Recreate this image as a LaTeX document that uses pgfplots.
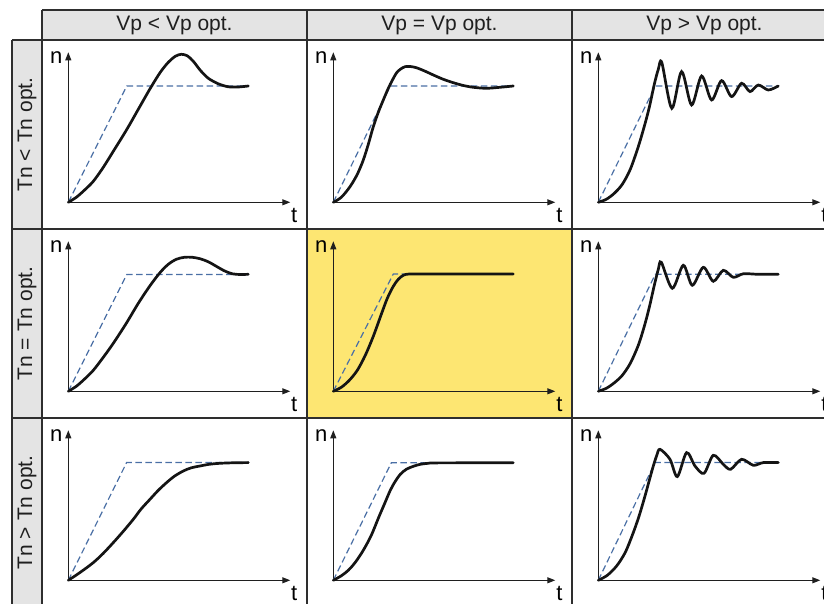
\documentclass[border=0pt]{standalone}
\usepackage{pgfplots}
\pgfplotsset{compat=1.18}
\usetikzlibrary{arrows.meta}
\usepackage{fontspec}
\setmainfont{Liberation Sans}
\definecolor{hdr}{HTML}{E4E4E4}
\definecolor{yel}{HTML}{FDE672}
\definecolor{refc}{HTML}{4A6FA5}
\definecolor{gridc}{HTML}{2E2E2E}
\pgfplotsset{
  cell/.style={x=1pt,y=1pt,xmin=0,xmax=222,ymin=0,ymax=150,
    axis lines=left, ticks=none, clip=false, anchor=origin,
    axis line style={draw=black!88, line width=1pt, -{Triangle[length=8pt,width=6pt]}}},
  resp/.style={black!92, line width=2.7pt, smooth, tension=0.5, no markers, line cap=round},
  refl/.style={refc, line width=1.2pt, dash pattern=on 6.5pt off 3.5pt, no markers},
}
\newcommand{\nt}{%
  \node[font=\fontsize{22}{22}\selectfont] at (axis cs:-12,145) {n};
  \node[font=\fontsize{22}{22}\selectfont] at (axis cs:226,-13) {t};}
\begin{document}
\begin{tikzpicture}[x=1pt,y=1pt]
\useasboundingbox (0,0) rectangle (824,604);
\clip (0,0) rectangle (824,604);
\fill[hdr] (42,594) rectangle (845,564);
\fill[hdr] (12,564) rectangle (42,-10);
\fill[yel] (307,375) rectangle (572,186);
\begin{scope}[draw=gridc, line width=1.3pt]
\draw (42,594) -- (845,594);
\draw (12,564) -- (845,564);
\draw (12,375) -- (845,375);
\draw (12,186) -- (845,186);
\draw (12,564) -- (12,-10);
\draw (42,594) -- (42,-10);
\draw (307,594) -- (307,-10);
\draw (572,594) -- (572,-10);
\draw (837,594) -- (837,-10);
\end{scope}
\begin{scope}[font=\fontsize{21}{22}\selectfont, text=black!88]
\node at (174.5,579) {Vp < Vp opt.};
\node at (439.5,579) {Vp = Vp opt.};
\node at (704.5,579) {Vp > Vp opt.};
\node[rotate=90] at (27,469.5) {Tn < Tn opt.};
\node[rotate=90] at (27,280.5) {Tn = Tn opt.};
\node[rotate=90] at (27,91.5) {Tn > Tn opt.};
\end{scope}
% Row 1
\begin{axis}[cell, at={(68.3,401.7)}]
\addplot[refl] coordinates {(0,0) (58.5,116.3) (180,116.3)};
\addplot[resp] coordinates {(0,0) (8,5) (16,12) (25,21) (35,35) (45,51) (58,72) (70,93) (82,114) (92,130) (100,140) (107,146) (113,148) (119,146.5) (125,141) (132,132) (140,124) (150,118.5) (160,115.5) (170,115.3) (180,116.3)};
\nt
\end{axis}
\begin{axis}[cell, at={(333.3,401.7)}]
\addplot[refl] coordinates {(0,0) (57,116.3) (180,116.3)};
\addplot[resp] coordinates {(0,0) (8,5) (16.7,15.6) (24,28) (30,42.3) (35,58) (40,75.6) (45,90) (50,102.3) (55,114) (59,122) (63.3,129.5) (67,133) (71.7,135.6) (77,135.8) (83.3,134.5) (92,131) (100,127.3) (110,123) (120,119.6) (130,116.8) (140,115) (153,114) (166.7,115) (180,116.3)};
\nt
\end{axis}
\begin{axis}[cell, at={(598.3,401.7)}]
\addplot[refl] coordinates {(0,0) (57,116.3) (180,116.3)};
\addplot[resp] coordinates {(0,0) (8,3) (16,9) (24,18) (32,33) (40,55.7) (46,76) (51,95) (56,118) (60,133) (63.5,139.7) (73.5,94) (83.3,130.7) (93.3,97.3) (103.3,126.3) (113.3,102.3) (123.3,121.7) (133.3,105.7) (143.3,119) (151.7,110.7) (160,117.3) (170,112.3) (180,116.3)};
\nt
\end{axis}
% Row 2
\begin{axis}[cell, at={(68.3,212.7)}]
\addplot[refl] coordinates {(0,0) (58.5,116.8) (180,116.8)};
\addplot[resp] coordinates {(0,0) (8,5) (16,12) (25,21) (35,34) (45,48) (58,68) (70,88) (82,106) (92,119) (100,127) (108,132) (116,134) (124,134) (132,132.5) (140,129.5) (148,125) (156,120.5) (164,117.5) (172,116.8) (180,117)};
\nt
\end{axis}
\begin{axis}[cell, at={(333.3,212.7)}]
\addplot[refl] coordinates {(0,0) (60,117.3) (180,117.3)};
\addplot[resp] coordinates {(0,0) (8,4) (16,11) (24,21) (32,36) (40,55) (48,77) (54,93) (60,105) (65,112) (70,116) (76,117.3) (90,117.3) (180,117.3)};
\nt
\end{axis}
\begin{axis}[cell, at={(598.3,212.7)}]
\addplot[refl] coordinates {(0,0) (57,117) (180,117)};
\addplot[resp] coordinates {(0,0) (8,3) (16,8.5) (24,16) (32,28) (40,46) (46,65) (51,84) (56,106) (60,122) (63,129) (74,103) (85,126) (94,106) (105,124) (115,110) (125,121) (135,114) (145,117.5) (160,117) (180,117)};
\nt
\end{axis}
% Row 3
\begin{axis}[cell, at={(68.3,23.7)}]
\addplot[refl] coordinates {(0,0) (58.3,117.7) (180,117.7)};
\addplot[resp] coordinates {(0,0) (12,8) (25,17.7) (35,27) (45,37.7) (55,49) (65,61) (73,71.5) (81.7,81) (90,90) (98.3,97.7) (106,104) (115,109.3) (123,112.5) (131.7,114.3) (141,116) (151.7,117) (165,117.5) (180,117.7)};
\nt
\end{axis}
\begin{axis}[cell, at={(333.3,23.7)}]
\addplot[refl] coordinates {(0,0) (58,117.5) (180,117.5)};
\addplot[resp] coordinates {(0,0) (8,4.5) (15,10) (22,18) (30,30) (38,45) (45,62) (51,76) (57,90) (62,99) (67,106) (73,111) (80,114) (87,116) (95,117) (105,117.4) (180,117.5)};
\nt
\end{axis}
\begin{axis}[cell, at={(598.3,23.7)}]
\addplot[refl] coordinates {(0,0) (56.7,117.7) (180,117.7)};
\addplot[resp] coordinates {(0,0) (9,5) (18.3,14.3) (27,28) (35,47.7) (41,65) (46.7,84.3) (51,100) (55,114.3) (58.5,125) (61.7,131) (71.7,121) (79,103.7) (88.3,127.7) (96.7,114.3) (105.7,107) (115,125) (125,116) (132.3,111) (143.3,121) (155,115) (165,117.7) (180,117.7)};
\nt
\end{axis}
\end{tikzpicture}
\end{document}
